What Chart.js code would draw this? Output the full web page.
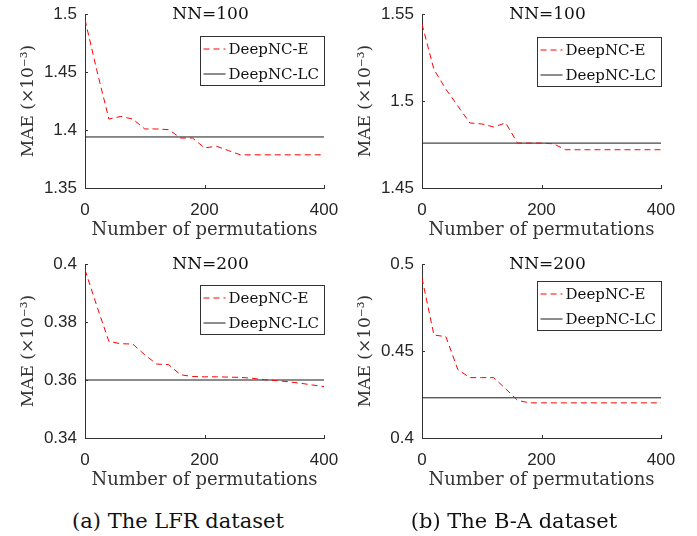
<!DOCTYPE html>
<html>
<head>
<meta charset="utf-8">
<script src="https://cdn.jsdelivr.net/npm/chart.js@4.4.0/dist/chart.umd.min.js"></script>
<style>
    body { margin: 0; background: #fff; width: 697px; height: 536px; position: relative; overflow: hidden; }
    canvas { position: absolute; }
    .cap { position: absolute; top: 508px; font-family: "DejaVu Serif", serif; font-size: 21px; line-height: 26px;
           color: #111; white-space: nowrap; transform: translateX(-50%); }
</style>
</head>
<body>
<canvas id="lfr100" width="340" height="250" style="left:0;top:0"></canvas>
<canvas id="ba100" width="340" height="250" style="left:337px;top:0"></canvas>
<canvas id="lfr200" width="340" height="250" style="left:0;top:250px"></canvas>
<canvas id="ba200" width="340" height="250" style="left:337px;top:250px"></canvas>
<div class="cap" style="left:178px">(a) The LFR dataset</div>
<div class="cap" style="left:514px">(b) The B-A dataset</div>

<script>
    "use strict";

    var permutations = [0, 20, 40, 60, 80, 100, 120, 140, 160, 180, 200,
        220, 240, 260, 280, 300, 320, 340, 360, 380, 400];
    var xTicks = [0, 200, 400];

    var lfr100E = [1.4951, 1.451, 1.4094, 1.4117, 1.4094, 1.4009, 1.4009, 1.4003, 1.3931, 1.3931, 1.3846,
        1.386, 1.3823, 1.3786, 1.3786, 1.3786, 1.3786, 1.3786, 1.3786, 1.3786, 1.3786];
    var lfr100LC = 1.394;
    var lfr100Ticks = [1.35, 1.4, 1.45, 1.5];

    var ba100E = [1.5442, 1.5181, 1.5068, 1.4971, 1.4874, 1.4868, 1.4851, 1.4874, 1.4758, 1.4758, 1.4758,
        1.4754, 1.472, 1.472, 1.472, 1.472, 1.472, 1.472, 1.472, 1.472, 1.472];
    var ba100LC = 1.4758;
    var ba100Ticks = [1.45, 1.5, 1.55];

    var lfr200E = [0.398, 0.3854, 0.3733, 0.3725, 0.3724, 0.3687, 0.3655, 0.3653, 0.3618, 0.3612, 0.3611,
        0.3611, 0.361, 0.3609, 0.3606, 0.3601, 0.3598, 0.3594, 0.3589, 0.3583, 0.3577];
    var lfr200LC = 0.36;
    var lfr200Ticks = [0.34, 0.36, 0.38, 0.4];

    var ba200E = [0.4919, 0.4592, 0.4582, 0.4393, 0.4347, 0.4347, 0.4347, 0.4283, 0.4216, 0.4202, 0.4202,
        0.4202, 0.4202, 0.4202, 0.4202, 0.4202, 0.4202, 0.4202, 0.4202, 0.4202, 0.4202];
    var ba200LC = 0.4231;
    var ba200Ticks = [0.4, 0.45, 0.5];

    var serif = '"DejaVu Serif", serif';
    var sans = '"Liberation Sans", Arial, sans-serif';
    var axisColor = "#333";

    // inward ticks, title inside the top of the axes and a boxed legend, MATLAB style
    var matlabBits = {
        id: "matlabBits",
        afterDraw: function (chart) {
            var ctx = chart.ctx;
            var a = chart.chartArea;
            var xs = chart.scales.x;
            var ys = chart.scales.y;
            var o = chart.options.plugins.matlabBits;

            ctx.save();
            ctx.strokeStyle = axisColor;
            ctx.lineWidth = 1;
            ctx.beginPath();
            xs.ticks.forEach(function (t) {
                var px = Math.round(xs.getPixelForValue(t.value)) + 0.5;
                ctx.moveTo(px, a.bottom);
                ctx.lineTo(px, a.bottom - 3);
            });
            ys.ticks.forEach(function (t) {
                var py = Math.round(ys.getPixelForValue(t.value)) + 0.5;
                ctx.moveTo(a.left, py);
                ctx.lineTo(a.left + 3, py);
            });
            ctx.stroke();

            ctx.fillStyle = "#111";
            ctx.font = "17px " + serif;
            ctx.textAlign = "center";
            ctx.textBaseline = "middle";
            ctx.fillText(o.title, (a.left + a.right) / 2 + 6, 15);

            var w = 124, h = 49;
            var x0 = Math.round(a.right - w) + 0.5;
            var y0 = Math.round(a.top + o.legendTop) + 0.5;
            ctx.fillStyle = "#fff";
            ctx.fillRect(x0, y0, w, h);
            ctx.strokeStyle = axisColor;
            ctx.strokeRect(x0, y0, w, h);

            ctx.font = "15px " + serif;
            ctx.textAlign = "left";
            chart.data.datasets.forEach(function (ds, i) {
                var yy = y0 + 12.5 + i * 25;
                ctx.beginPath();
                ctx.setLineDash(ds.borderDash || []);
                ctx.strokeStyle = ds.borderColor;
                ctx.lineWidth = ds.borderWidth;
                ctx.moveTo(x0 + 3, yy);
                ctx.lineTo(x0 + 25, yy);
                ctx.stroke();
                ctx.setLineDash([]);
                ctx.fillStyle = "#111";
                ctx.fillText(ds.label, x0 + 28, yy + 1);
            });
            ctx.restore();
        },
    };

    function makePanel(id, eValues, lcValue, yTicks, title, legendTop) {
        new Chart(document.getElementById(id), {
            type: "line",
            data: {
                datasets: [
                    {
                        label: "DeepNC-E",
                        data: permutations.map(function (p, i) {
                            return {x: p, y: eValues[i]};
                        }),
                        borderColor: "rgb(255, 0, 0)",
                        borderWidth: 1,
                        borderDash: [6, 4],
                        pointRadius: 0,
                        tension: 0,
                    },
                    {
                        label: "DeepNC-LC",
                        data: [
                            {x: permutations[0], y: lcValue},
                            {x: permutations[permutations.length - 1], y: lcValue},
                        ],
                        borderColor: "#1a1a1a",
                        borderWidth: 1,
                        pointRadius: 0,
                        tension: 0,
                    },
                ],
            },
            plugins: [matlabBits],
            options: {
                responsive: false,
                animation: false,
                layout: {padding: {top: 14, right: 16, left: 0, bottom: 0}},
                plugins: {
                    legend: {display: false},
                    tooltip: {enabled: false},
                    matlabBits: {title: title, legendTop: legendTop},
                },
                scales: {
                    x: {
                        type: "linear",
                        min: 0,
                        max: 400,
                        afterBuildTicks: function (scale) {
                            scale.ticks = xTicks.map(function (v) {
                                return {value: v};
                            });
                        },
                        afterFit: function (scale) {
                            scale.height = 62;
                            scale.paddingLeft = 0;
                            scale.paddingRight = 0;
                        },
                        grid: {display: true, drawOnChartArea: false, drawTicks: false},
                        border: {display: true, color: axisColor, width: 1},
                        ticks: {
                            padding: 12,
                            color: "#262626",
                            font: {family: sans, size: 17},
                            maxRotation: 0,
                            callback: function (v) {
                                return String(v);
                            },
                        },
                        title: {
                            display: true,
                            text: "Number of permutations",
                            color: "#333",
                            font: {family: serif, size: 18},
                            padding: {top: 0, bottom: 9},
                        },
                    },
                    y: {
                        type: "linear",
                        min: yTicks[0],
                        max: yTicks[yTicks.length - 1],
                        afterBuildTicks: function (scale) {
                            scale.ticks = yTicks.map(function (v) {
                                return {value: v};
                            });
                        },
                        afterFit: function (scale) {
                            scale.width = 85;
                            scale.paddingTop = 0;
                            scale.paddingBottom = 0;
                        },
                        grid: {display: true, drawOnChartArea: false, drawTicks: false},
                        border: {display: true, color: axisColor, width: 1},
                        ticks: {
                            padding: 8,
                            color: "#262626",
                            font: {family: sans, size: 17},
                            callback: function (v) {
                                return String(+Number(v).toFixed(4));
                            },
                        },
                        title: {
                            display: true,
                            text: "MAE (\u00d710\u207b\u00b3)",
                            color: "#333",
                            font: {family: serif, size: 17},
                            padding: {top: 18, bottom: 0},
                        },
                    },
                },
            },
        });
    }

    makePanel("lfr100", lfr100E, lfr100LC, lfr100Ticks, "NN=100", 22);
    makePanel("ba100", ba100E, ba100LC, ba100Ticks, "NN=100", 23);
    makePanel("lfr200", lfr200E, lfr200LC, lfr200Ticks, "NN=200", 21);
    makePanel("ba200", ba200E, ba200LC, ba200Ticks, "NN=200", 17);
</script>
</body>
</html>
